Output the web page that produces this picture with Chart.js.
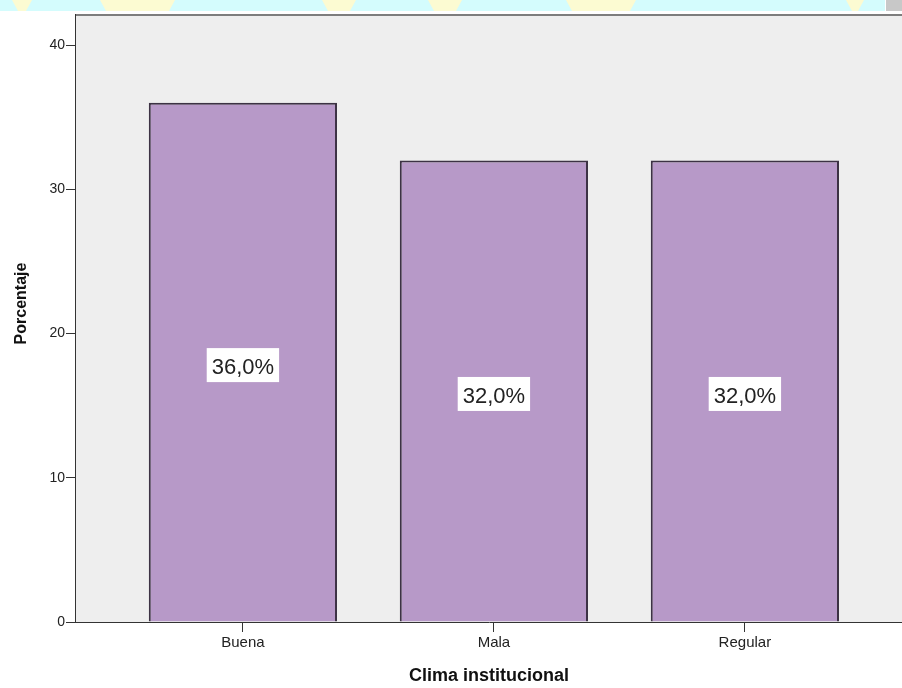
<!DOCTYPE html>
<html>
<head>
<meta charset="utf-8">
<title>Clima institucional</title>
<script src="https://cdn.jsdelivr.net/npm/chart.js@4/dist/chart.umd.min.js"></script>
<style>
  html, body { margin: 0; padding: 0; background: #ffffff; overflow: hidden; }
  #wrap { position: relative; width: 902px; height: 688px; }
</style>
</head>
<body>
<div id="wrap"><canvas id="chart" width="902" height="688"></canvas></div>
<script>
// datos de la tabla de frecuencias
const categories = ['Buena', 'Mala', 'Regular'];
const percentages = [36.0, 32.0, 32.0];
const yTicks = [0, 10, 20, 30, 40];

const FONT = "'Liberation Sans', Arial, sans-serif";

// franja decorativa superior (cian con manchas amarillas)
const topBand = {
  id: 'topBand',
  beforeDraw(chart) {
    const ctx = chart.ctx;
    ctx.save();
    ctx.fillStyle = '#d4fcfd';
    ctx.fillRect(0, 0, 885, 11);
    ctx.fillStyle = '#fcfbd2';
    const spots = [[12, 32], [100, 175], [322, 356], [428, 462], [566, 636], [846, 864]];
    spots.forEach(([a, b]) => {
      ctx.beginPath();
      ctx.moveTo(a, 0); ctx.lineTo(b, 0); ctx.lineTo(b - 6, 11); ctx.lineTo(a + 6, 11);
      ctx.closePath();
      ctx.fill();
    });
    ctx.fillStyle = '#c8c8c8';
    ctx.fillRect(886, 0, 16, 11);
    ctx.restore();
  }
};

// fondo gris del area de trazado y borde superior
const plotFrame = {
  id: 'plotFrame',
  beforeDatasetsDraw(chart) {
    const { ctx, chartArea: a } = chart;
    ctx.save();
    ctx.fillStyle = '#eeeeee';
    ctx.fillRect(a.left, a.top, a.right - a.left, a.bottom - a.top);
    ctx.strokeStyle = '#7d7d7d';
    ctx.lineWidth = 2;
    ctx.beginPath();
    ctx.moveTo(a.left, a.top);
    ctx.lineTo(a.right, a.top);
    ctx.stroke();
    ctx.restore();
  }
};

// etiquetas de porcentaje en cajas blancas
const valueLabels = {
  id: 'valueLabels',
  afterDatasetsDraw(chart) {
    const ctx = chart.ctx;
    const meta = chart.getDatasetMeta(0);
    ctx.save();
    ctx.font = '22px ' + FONT;
    ctx.textAlign = 'center';
    ctx.textBaseline = 'middle';
    meta.data.forEach((bar, i) => {
      const txt = percentages[i].toFixed(1).replace('.', ',') + '%';
      const mid = (bar.y + bar.base) / 2;
      const w = ctx.measureText(txt).width + 10;
      const h = 34;
      ctx.fillStyle = '#ffffff';
      ctx.fillRect(bar.x - w / 2, mid + 3 - h / 2, w, h);
      ctx.fillStyle = '#222222';
      ctx.fillText(txt, bar.x, mid + 6);
    });
    ctx.restore();
  }
};

// titulo vertical del eje Y
const yTitle = {
  id: 'yTitle',
  afterDraw(chart) {
    const { ctx, chartArea: a } = chart;
    ctx.save();
    ctx.translate(22, (a.top + a.bottom) / 2 - 15);
    ctx.rotate(-Math.PI / 2);
    ctx.font = 'bold 16px ' + FONT;
    ctx.fillStyle = '#111111';
    ctx.textAlign = 'center';
    ctx.textBaseline = 'middle';
    ctx.fillText('Porcentaje', 0, 0);
    ctx.restore();
  }
};

new Chart(document.getElementById('chart'), {
  type: 'bar',
  data: {
    datasets: [{
      data: percentages.map((v, i) => ({ x: i, y: v })),
      backgroundColor: '#b799c8',
      borderColor: '#3c3244',
      borderWidth: 2,
      categoryPercentage: 1,
      barPercentage: 0.75
    }]
  },
  options: {
    responsive: false,
    animation: false,
    layout: { padding: { top: 15, right: 0, bottom: 0, left: 0 } },
    plugins: {
      legend: { display: false },
      tooltip: { enabled: false }
    },
    scales: {
      x: {
        type: 'linear',
        offset: false,
        min: -0.665,
        max: 2.626,
        afterBuildTicks: s => { s.ticks = categories.map((c, i) => ({ value: i })); },
        afterFit: s => { s.height = 66; },
        ticks: {
          callback: v => categories[v],
          font: { family: FONT, size: 15 },
          color: '#222222',
          padding: 2,
          maxRotation: 0
        },
        grid: { offset: false, drawOnChartArea: false, tickLength: 10, tickColor: '#333333', tickWidth: 1 },
        border: { color: '#333333', width: 1 },
        title: {
          display: true,
          text: 'Clima institucional',
          color: '#111111',
          font: { family: FONT, size: 18, weight: 'bold' },
          padding: { top: 0, bottom: 1 }
        }
      },
      y: {
        min: 0,
        max: 42.08,
        afterBuildTicks: s => { s.ticks = yTicks.map(v => ({ value: v })); },
        afterFit: s => { s.width = 76; },
        ticks: {
          font: { family: FONT, size: 14 },
          color: '#222222',
          padding: 1
        },
        grid: { drawOnChartArea: false, tickLength: 10, tickColor: '#333333', tickWidth: 1 },
        border: { color: '#333333', width: 1.5 }
      }
    }
  },
  plugins: [topBand, plotFrame, valueLabels, yTitle]
});
</script>
</body>
</html>
